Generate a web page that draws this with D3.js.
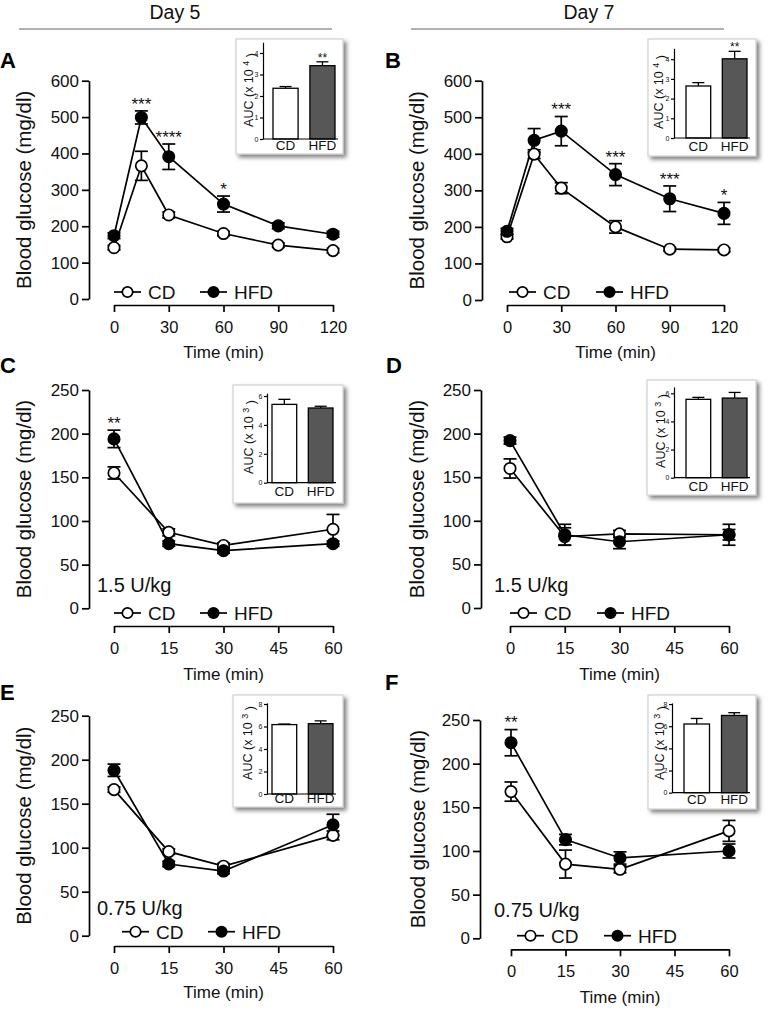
<!DOCTYPE html>
<html><head><meta charset="utf-8">
<script src="https://cdn.jsdelivr.net/npm/d3@7"></script>
<style>body{margin:0;background:#fff;} text{font-family:"Liberation Sans",Arial,sans-serif;}</style>
</head><body>
<script>
// ---------- DATA ----------
const gttTimes = [0, 15, 30, 60, 90, 120];
const ittTimes = [0, 15, 30, 60];
const gttTicks = [0, 30, 60, 90, 120];
const ittTicks = [0, 15, 30, 45, 60];
const gttYTicks = [0, 100, 200, 300, 400, 500, 600];
const ittYTicks = [0, 50, 100, 150, 200, 250];
const groups = ["CD", "HFD"];

// Panel A (GTT day 5)
const aCD = [141, 366, 231, 180, 148, 133];
const aCDerr = [6, 40, 8, 6, 6, 6];
const aHFD = [174, 499, 391, 261, 201, 178];
const aHFDerr = [8, 18, 35, 22, 8, 8];
const aStars = ["", "***", "****", "*", "", ""];
const aAUC = [2.36, 3.41];
const aAUCerr = [0.08, 0.18];
const aAUCstars = ["", "**"];

// Panel B (GTT day 7)
const bCD = [173, 399, 306, 200, 139, 137];
const bCDerr = [6, 12, 15, 17, 5, 5];
const bHFD = [188, 437, 462, 343, 277, 237];
const bHFDerr = [8, 32, 40, 30, 35, 30];
const bStars = ["", "", "***", "***", "***", "*"];
const bAUC = [2.64, 4.02];
const bAUCerr = [0.17, 0.38];
const bAUCstars = ["", "**"];

// Panel C (ITT day 5, 1.5 U/kg)
const cCD = [155, 87, 72, 90.5];
const cCDerr = [7, 4, 3, 17];
const cHFD = [194, 74, 66, 74];
const cHFDerr = [10, 3, 3, 3];
const cStars = ["**", "", "", ""];
const cAUC = [5.42, 5.17];
const cAUCerr = [0.35, 0.12];

// Panel D (ITT day 7, 1.5 U/kg)
const dCD = [160, 82, 85, 84];
const dCDerr = [11, 10, 4, 6];
const dHFD = [192, 84, 76, 84];
const dHFDerr = [4, 12, 8, 12];
const dStars = ["", "", "", ""];
const dAUC = [5.57, 5.66];
const dAUCerr = [0.14, 0.4];

// Panel E (ITT day 5, 0.75 U/kg)
const eCD = [166, 95.5, 79, 114];
const eCDerr = [3, 3, 3, 5];
const eHFD = [188, 81.5, 73.5, 126];
const eHFDerr = [7, 3, 3, 12];
const eStars = ["", "", "", ""];
const eAUC = [6.17, 6.25];
const eAUCerr = [0.05, 0.25];

// Panel F (ITT day 7, 0.75 U/kg)
const fCD = [168, 85, 79, 123];
const fCDerr = [11, 16, 4, 12];
const fHFD = [224, 113, 92, 100];
const fHFDerr = [15, 6, 7, 8];
const fStars = ["**", "", "", ""];
const fAUC = [6.2, 6.97];
const fAUCerr = [0.5, 0.25];

// ---------- DRAW ----------
const W = 769, H = 1010;
const svg = d3.select("body").append("svg").attr("width", W).attr("height", H);
const defs = svg.append("defs");
const flt = defs.append("filter").attr("id", "shadow").attr("x", "-10%").attr("y", "-10%").attr("width", "130%").attr("height", "130%");
flt.append("feDropShadow").attr("dx", 3).attr("dy", 3).attr("stdDeviation", 2.2).attr("flood-color", "#000").attr("flood-opacity", 0.5);

const SW = 1.7;

function styleAxis(g, fs) {
  g.attr("font-family", null).attr("font-size", null);
  g.select(".domain").attr("stroke", "#000").attr("stroke-width", SW);
  g.selectAll(".tick line").attr("stroke", "#000").attr("stroke-width", SW);
  g.selectAll(".tick text").attr("fill", "#111").style("font-size", fs + "px");
}

function drawPanel(c) {
  const L = c.layout;
  const g = svg.append("g");
  const y = d3.scaleLinear().domain([0, c.yMax]).range([L.yBot, L.yTop]);
  const x = d3.scaleLinear().domain([0, c.xMax]).range([L.x0, L.x1]);

  // Y axis
  const ya = g.append("g").attr("transform", `translate(${L.yAxisX},0)`)
    .call(d3.axisLeft(y).tickValues(c.yTicks).tickSize(7).tickSizeOuter(0).tickPadding(3).tickFormat(d3.format("d")));
  styleAxis(ya, 17);
  // X axis
  const xa = g.append("g").attr("transform", `translate(0,${L.xAxisY})`)
    .call(d3.axisBottom(x).tickValues(c.xTicks).tickSize(7).tickSizeOuter(0).tickPadding(9).tickFormat(d3.format("d")));
  styleAxis(xa, 16.5);

  // axis titles
  g.append("text").attr("x", (L.x0 + L.x1) / 2).attr("y", L.titleY).attr("text-anchor", "middle")
    .style("font-size", "17px").attr("fill", "#111").text("Time (min)");
  g.append("text").attr("transform", `translate(${L.yLabelX},${(L.yTop + L.yBot) / 2}) rotate(-90)`)
    .attr("text-anchor", "middle").style("font-size", "20.5px").attr("fill", "#111").text("Blood glucose (mg/dl)");

  // panel letter
  g.append("text").attr("x", L.letterX).attr("y", L.letterY).style("font-size", "22px").style("font-weight", "bold")
    .attr("fill", "#000").text(c.letter);

  // dose label
  if (c.dose) {
    g.append("text").attr("x", L.doseX).attr("y", L.doseY).style("font-size", "20px").attr("fill", "#111").text(c.dose);
  }

  const series = [
    {vals: c.cd, err: c.cdErr, fill: "#fff"},
    {vals: c.hfd, err: c.hfdErr, fill: "#000"}
  ];
  const line = d3.line().x(d => x(d.t)).y(d => y(d.v));
  series.forEach(s => {
    const pts = c.times.map((t, i) => ({t, v: s.vals[i], e: s.err[i]}));
    s.pts = pts;
    g.append("path").datum(pts).attr("d", line).attr("fill", "none").attr("stroke", "#000").attr("stroke-width", SW);
  });
  series.forEach(s => {
    const eg = g.append("g");
    s.pts.forEach(p => {
      const xx = x(p.t);
      eg.append("line").attr("x1", xx).attr("x2", xx).attr("y1", y(p.v - p.e)).attr("y2", y(p.v + p.e))
        .attr("stroke", "#000").attr("stroke-width", SW);
      [p.v - p.e, p.v + p.e].forEach(v => {
        eg.append("line").attr("x1", xx - 6.5).attr("x2", xx + 6.5).attr("y1", y(v)).attr("y2", y(v))
          .attr("stroke", "#000").attr("stroke-width", SW);
      });
    });
  });
  series.forEach(s => {
    g.append("g").selectAll("circle").data(s.pts).join("circle")
      .attr("cx", d => x(d.t)).attr("cy", d => y(d.v)).attr("r", 5.7)
      .attr("fill", s.fill).attr("stroke", "#000").attr("stroke-width", SW);
  });

  // significance stars
  c.stars.forEach((st, i) => {
    if (!st) return;
    const top = Math.max(c.cd[i] + c.cdErr[i], c.hfd[i] + c.hfdErr[i]);
    g.append("text").attr("x", x(c.times[i])).attr("y", y(top) - 11 + 0.58 * 17)
      .attr("text-anchor", "middle").style("font-size", "17px").attr("fill", "#111").text(st);
  });

  // legend
  const legItems = [{name: "CD", fill: "#fff", sx: L.legCD}, {name: "HFD", fill: "#000", sx: L.legHFD}];
  legItems.forEach(it => {
    g.append("line").attr("x1", it.sx).attr("x2", it.sx + 27).attr("y1", L.legY).attr("y2", L.legY)
      .attr("stroke", "#000").attr("stroke-width", SW);
    g.append("circle").attr("cx", it.sx + 13.5).attr("cy", L.legY).attr("r", 5.2)
      .attr("fill", it.fill).attr("stroke", "#000").attr("stroke-width", SW);
    g.append("text").attr("x", it.sx + 34).attr("y", L.legY).attr("dy", "0.36em").style("font-size", "19px")
      .attr("fill", "#111").text(it.name);
  });

  drawInset(c.inset);
}

function drawInset(I) {
  const g = svg.append("g");
  g.append("rect").attr("x", I.box[0]).attr("y", I.box[1]).attr("width", I.box[2]).attr("height", I.box[3])
    .attr("fill", "#fff").attr("stroke", "#c8c8c8").attr("stroke-width", 1).attr("filter", "url(#shadow)");
  const y = d3.scaleLinear().domain([0, I.yMax]).range([I.y0, I.y0 - I.yMax * I.ppu]);
  const xb = d3.scaleBand().domain(groups).range([I.barStart, I.barEnd]).paddingInner(0.32).paddingOuter(0);
  // bars + errors
  groups.forEach((gr, i) => {
    const v = I.vals[i], e = I.errs[i];
    const cx = xb(gr) + xb.bandwidth() / 2;
    g.append("line").attr("x1", cx).attr("x2", cx).attr("y1", y(v)).attr("y2", y(v + e)).attr("stroke", "#000").attr("stroke-width", 1.3);
    g.append("line").attr("x1", cx - 6).attr("x2", cx + 6).attr("y1", y(v + e)).attr("y2", y(v + e)).attr("stroke", "#000").attr("stroke-width", 1.3);
    g.append("rect").attr("x", xb(gr)).attr("y", y(v)).attr("width", xb.bandwidth()).attr("height", y(0) - y(v))
      .attr("fill", i === 0 ? "#fff" : "#575757").attr("stroke", "#000").attr("stroke-width", 1.3);
    g.append("text").attr("x", cx).attr("y", I.labelY).attr("text-anchor", "middle").style("font-size", "13.5px")
      .attr("fill", "#111").text(gr);
    if (I.stars && I.stars[i]) {
      g.append("text").attr("x", cx).attr("y", y(v + e) - 7 + 0.58 * 12).attr("text-anchor", "middle")
        .style("font-size", "12px").attr("fill", "#111").text(I.stars[i]);
    }
  });
  const ya = g.append("g").attr("transform", `translate(${I.axisX},0)`)
    .call(d3.axisLeft(y).tickValues(I.ticks).tickSize(3).tickSizeOuter(0).tickPadding(1.5).tickFormat(d3.format("d")));
  styleAxis(ya, 7);
  ya.select(".domain").attr("stroke-width", 1.2);
  ya.selectAll(".tick line").attr("stroke-width", 1.2);
  g.append("line").attr("x1", I.axisX).attr("x2", I.barEnd + 3).attr("y1", I.y0).attr("y2", I.y0)
    .attr("stroke", "#000").attr("stroke-width", 1.2);
  // y label
  const t = g.append("text").attr("transform", `translate(${I.labelX},${I.labelCY}) rotate(-90)`)
    .attr("text-anchor", "middle").style("font-size", "12.5px").attr("fill", "#111");
  t.append("tspan").text("AUC (x 10 ");
  t.append("tspan").attr("dy", "-0.45em").style("font-size", "9px").text(I.exp);
  t.append("tspan").attr("dy", "0.45em").text(" )");
}

// headers
function header(txt, cx, x1, x2) {
  svg.append("text").attr("x", cx).attr("y", 18.5).attr("text-anchor", "middle").style("font-size", "19.5px")
    .attr("fill", "#111").text(txt);
  svg.append("line").attr("x1", x1).attr("x2", x2).attr("y1", 29).attr("y2", 29).attr("stroke", "#999").attr("stroke-width", 1.5);
}
header("Day 5", 175, 19, 332);
header("Day 7", 589, 411, 724);

drawPanel({
  letter: "A", times: gttTimes, cd: aCD, cdErr: aCDerr, hfd: aHFD, hfdErr: aHFDerr, stars: aStars,
  yMax: 600, yTicks: gttYTicks, xMax: 120, xTicks: gttTicks,
  layout: {yAxisX: 89, yTop: 80.7, yBot: 299, xAxisY: 305, x0: 114, x1: 333, titleY: 358, yLabelX: 31,
    letterX: 0, letterY: 68, legY: 292, legCD: 114, legHFD: 200},
  inset: {box: [236, 39, 107, 115], axisX: 263, y0: 139, ppu: 21.5, yMax: 4.5, ticks: [0, 1, 2, 3, 4],
    barStart: 273, barEnd: 335, vals: aAUC, errs: aAUCerr, stars: aAUCstars, labelY: 150, labelX: 253, labelCY: 90, exp: "4"}
});
drawPanel({
  letter: "B", times: gttTimes, cd: bCD, cdErr: bCDerr, hfd: bHFD, hfdErr: bHFDerr, stars: bStars,
  yMax: 600, yTicks: gttYTicks, xMax: 120, xTicks: gttTicks,
  layout: {yAxisX: 482, yTop: 80.7, yBot: 300, xAxisY: 305, x0: 507, x1: 724, titleY: 358, yLabelX: 424,
    letterX: 385, letterY: 68, legY: 292, legCD: 509, legHFD: 596},
  inset: {box: [648, 39, 108, 117], axisX: 674, y0: 138, ppu: 19.7, yMax: 4.55, ticks: [0, 1, 2, 3, 4],
    barStart: 686, barEnd: 747, vals: bAUC, errs: bAUCerr, stars: bAUCstars, labelY: 151, labelX: 663, labelCY: 92, exp: "4"}
});
drawPanel({
  letter: "C", times: ittTimes, cd: cCD, cdErr: cCDerr, hfd: cHFD, hfdErr: cHFDerr, stars: cStars,
  yMax: 250, yTicks: ittYTicks, xMax: 60, xTicks: ittTicks, dose: "1.5 U/kg",
  layout: {yAxisX: 89, yTop: 390, yBot: 608.3, xAxisY: 626, x0: 114, x1: 333, titleY: 680, yLabelX: 31,
    letterX: 0, letterY: 373, legY: 613, legCD: 114, legHFD: 200, doseX: 97, doseY: 592},
  inset: {box: [233, 385, 110, 118], axisX: 267, y0: 482.7, ppu: 14.45, yMax: 6.2, ticks: [0, 2, 4, 6],
    barStart: 272, barEnd: 333, vals: cAUC, errs: cAUCerr, labelY: 496, labelX: 253, labelCY: 437, exp: "3"}
});
drawPanel({
  letter: "D", times: ittTimes, cd: dCD, cdErr: dCDerr, hfd: dHFD, hfdErr: dHFDerr, stars: dStars,
  yMax: 250, yTicks: ittYTicks, xMax: 60, xTicks: ittTicks, dose: "1.5 U/kg",
  layout: {yAxisX: 481, yTop: 390, yBot: 608, xAxisY: 626, x0: 510, x1: 729, titleY: 680, yLabelX: 424,
    letterX: 386, letterY: 373, legY: 613, legCD: 510, legHFD: 597, doseX: 494, doseY: 592},
  inset: {box: [647, 380, 109, 115], axisX: 674, y0: 477.7, ppu: 14.07, yMax: 6.45, ticks: [0, 2, 4, 6],
    barStart: 686, barEnd: 747, vals: dAUC, errs: dAUCerr, labelY: 491, labelX: 665, labelCY: 431, exp: "3"}
});
drawPanel({
  letter: "E", times: ittTimes, cd: eCD, cdErr: eCDerr, hfd: eHFD, hfdErr: eHFDerr, stars: eStars,
  yMax: 250, yTicks: ittYTicks, xMax: 60, xTicks: ittTicks, dose: "0.75 U/kg",
  layout: {yAxisX: 89, yTop: 715.7, yBot: 935.7, xAxisY: 946, x0: 114, x1: 333, titleY: 998, yLabelX: 31,
    letterX: 0, letterY: 700, legY: 931.7, legCD: 122, legHFD: 208, doseX: 97, doseY: 915},
  inset: {box: [233, 695, 110, 112], axisX: 267, y0: 794, ppu: 11.25, yMax: 8.1, ticks: [0, 2, 4, 6, 8],
    barStart: 272, barEnd: 333, vals: eAUC, errs: eAUCerr, labelY: 803, labelX: 252, labelCY: 743, exp: "3"}
});
drawPanel({
  letter: "F", times: ittTimes, cd: fCD, cdErr: fCDerr, hfd: fHFD, hfdErr: fHFDerr, stars: fStars,
  yMax: 250, yTicks: ittYTicks, xMax: 60, xTicks: ittTicks, dose: "0.75 U/kg",
  layout: {yAxisX: 480, yTop: 720, yBot: 938.3, xAxisY: 949.3, x0: 511, x1: 729, titleY: 1003, yLabelX: 425,
    letterX: 385, letterY: 690, legY: 935.7, legCD: 517, legHFD: 604, doseX: 494, doseY: 917},
  inset: {box: [648, 695, 108, 114], axisX: 672, y0: 792.7, ppu: 11.08, yMax: 8.1, ticks: [0, 2, 4, 6, 8],
    barStart: 684, barEnd: 747, vals: fAUC, errs: fAUCerr, labelY: 804, labelX: 664, labelCY: 743, exp: "3"}
});
</script>
</body></html>
